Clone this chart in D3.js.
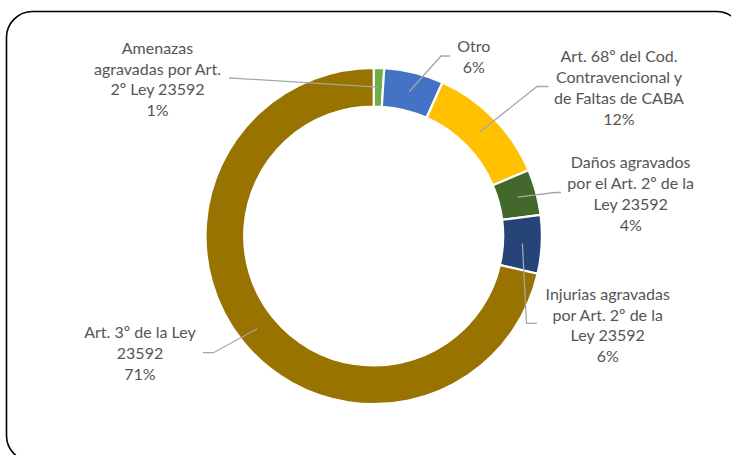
<!DOCTYPE html>
<html>
<head>
<meta charset="utf-8">
<script src="https://cdn.jsdelivr.net/npm/d3@7"></script>
<style>
  html, body { margin: 0; padding: 0; background: #fff; }
  svg { display: block; }
</style>
</head>
<body>
<svg id="chart" width="731" height="455"></svg>
<script>
// ---- data ----
const categories = [
  "Amenazas agravadas por Art. 2º Ley 23592",
  "Otro",
  "Art. 68º del Cod. Contravencional y de Faltas de CABA",
  "Daños agravados por el Art. 2º de la Ley 23592",
  "Injurias agravadas por Art. 2º de la Ley 23592",
  "Art. 3º de la Ley 23592"
];
const values = [1.0, 5.7, 11.9, 4.4, 5.6, 71.4];
const labelLines = [
  ["Amenazas", "agravadas por Art.", "2º Ley 23592"],
  ["Otro"],
  ["Art. 68º del Cod.", "Contravencional y", "de Faltas de CABA"],
  ["Daños agravados", "por el Art. 2º de la", "Ley 23592"],
  ["Injurias agravadas", "por Art. 2º de la", "Ley 23592"],
  ["Art. 3º de la Ley", "23592"]
];
const colors = ["#70AD47", "#4472C4", "#FFC000", "#43682B", "#264478", "#997300"];

// ---- layout (label block centre x, first line centre y, leader outer end, elbow) ----
const labelLayout = [
  { x: 157.5, y: 48.3, end: [229, 78], elbow: [236, 78.3] },
  { x: 473.7, y: 46.7, end: [450, 56], elbow: [441, 56] },
  { x: 619,   y: 56.7, end: [548.5, 86.5], elbow: [537, 86.5] },
  { x: 630.7, y: 162.7, end: [561, 192.5], elbow: [555, 192.5] },
  { x: 607.7, y: 294.3, end: [537, 323.3], elbow: [526.5, 323.3] },
  { x: 140,   y: 332.7, end: [203, 352.7], elbow: [213.5, 352.7] }
];

const svg = d3.select("#chart");
const cx = 373.7, cy = 236, rOuter = 168.2, rInner = 129.5;
const lineH = 20.8;

// frame
svg.append("rect")
  .attr("x", 6.5).attr("y", 11.5)
  .attr("width", 736).attr("height", 450)
  .attr("rx", 26).attr("ry", 26)
  .attr("fill", "#fff")
  .attr("stroke", "#000")
  .attr("stroke-width", 1.6);

const total = d3.sum(values);
const pie = d3.pie().value(d => d).sort(null)(values);
const arc = d3.arc().innerRadius(rInner).outerRadius(rOuter);
const midArc = d3.arc().innerRadius((rInner + rOuter) / 2).outerRadius((rInner + rOuter) / 2);

const g = svg.append("g").attr("transform", `translate(${cx},${cy})`);
g.selectAll("path.slice").data(pie).enter().append("path")
  .attr("class", "slice")
  .attr("d", arc)
  .attr("fill", (d, i) => colors[i])
  .attr("stroke", "#fff")
  .attr("stroke-width", 2.2)
  .attr("stroke-linejoin", "miter");

// leader lines
const fmt = d3.format(".0%");
pie.forEach((d, i) => {
  const c = midArc.centroid(d);
  const L = labelLayout[i];
  const pts = [L.end, L.elbow, [cx + c[0], cy + c[1]]];
  svg.append("path")
    .attr("d", d3.line()(pts))
    .attr("fill", "none")
    .attr("stroke", "#A6A6A6")
    .attr("stroke-width", 1.3);
});

// labels
pie.forEach((d, i) => {
  const L = labelLayout[i];
  const lines = labelLines[i].concat([fmt(d.data / total)]);
  const t = svg.append("text")
    .attr("text-anchor", "middle")
    .attr("font-family", "Lato, 'Open Sans', sans-serif")
    .attr("font-size", 16)
    .attr("fill", "#555555");
  lines.forEach((ln, k) => {
    t.append("tspan")
      .attr("x", L.x)
      .attr("y", L.y + k * lineH + 5.5)
      .text(ln);
  });
});
</script>
</body>
</html>
